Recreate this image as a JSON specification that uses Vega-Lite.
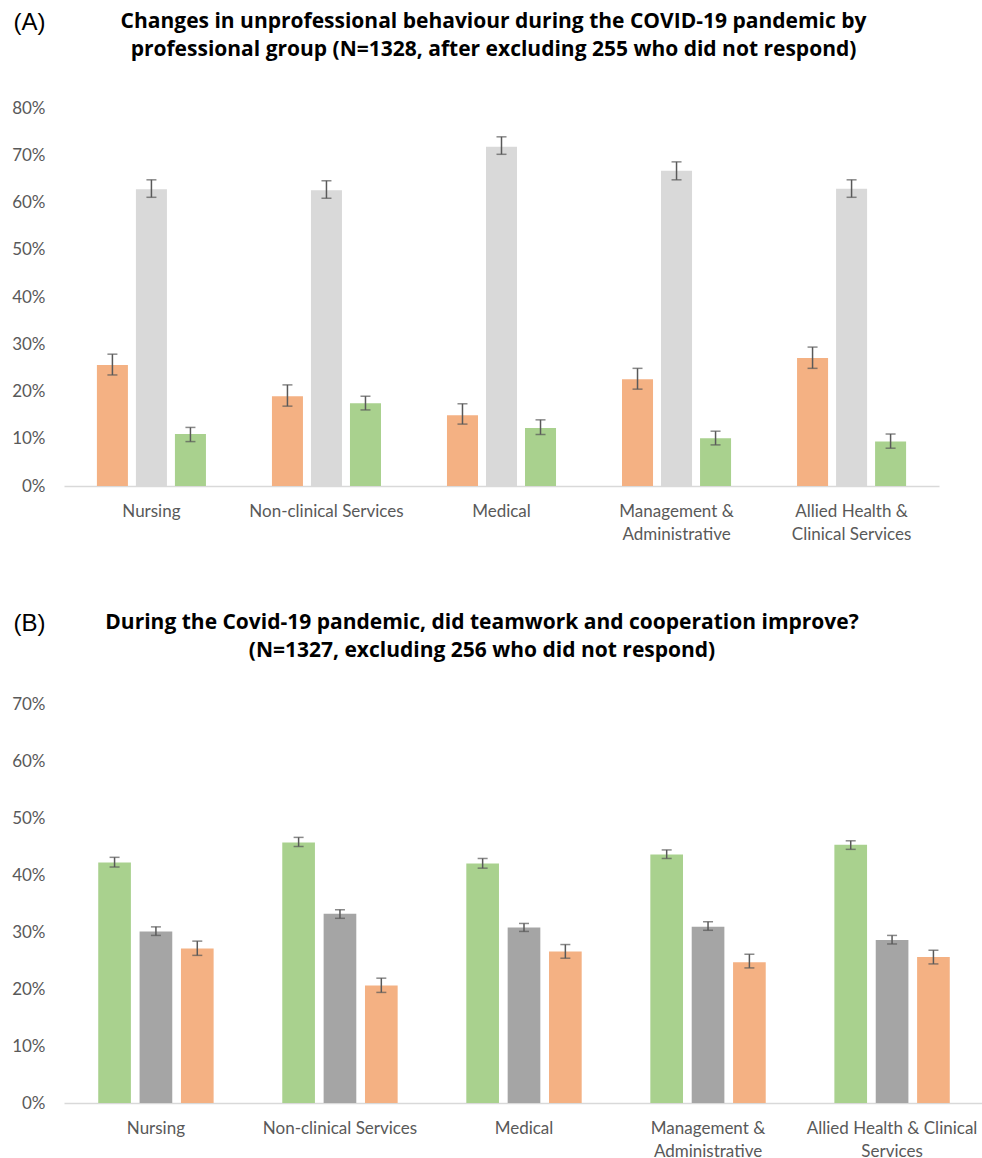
{
  "$schema": "https://vega.github.io/schema/vega-lite/v6.json",
  "background": "white",
  "padding": {"left": 11, "top": 10, "right": 0, "bottom": 0},
  "spacing": 69,
  "resolve": {"scale": {"color": "independent", "xOffset": "independent", "x": "independent", "y": "independent"}},
  "config": {
    "view": {"stroke": null},
    "font": "Lato",
    "axis": {"labelFont": "Lato", "labelFontSize": 17, "labelColor": "#595959", "grid": false, "ticks": false},
    "title": {"font": "Open Sans", "fontSize": 21, "fontWeight": "bold", "color": "#000000", "lineHeight": 28, "anchor": "middle"}
  },
  "datasets": {
    "a": [
      {"group": "Nursing", "series": "Increased", "value": 0.256, "lo": 0.235, "hi": 0.279},
      {"group": "Nursing", "series": "No change", "value": 0.628, "lo": 0.611, "hi": 0.648},
      {"group": "Nursing", "series": "Decreased", "value": 0.110, "lo": 0.094, "hi": 0.124},
      {"group": "Non-clinical Services", "series": "Increased", "value": 0.190, "lo": 0.169, "hi": 0.214},
      {"group": "Non-clinical Services", "series": "No change", "value": 0.626, "lo": 0.609, "hi": 0.646},
      {"group": "Non-clinical Services", "series": "Decreased", "value": 0.175, "lo": 0.161, "hi": 0.190},
      {"group": "Medical", "series": "Increased", "value": 0.150, "lo": 0.131, "hi": 0.174},
      {"group": "Medical", "series": "No change", "value": 0.718, "lo": 0.702, "hi": 0.739},
      {"group": "Medical", "series": "Decreased", "value": 0.123, "lo": 0.109, "hi": 0.140},
      {"group": "Management & Administrative", "series": "Increased", "value": 0.226, "lo": 0.205, "hi": 0.249},
      {"group": "Management & Administrative", "series": "No change", "value": 0.667, "lo": 0.648, "hi": 0.686},
      {"group": "Management & Administrative", "series": "Decreased", "value": 0.101, "lo": 0.087, "hi": 0.116},
      {"group": "Allied Health & Clinical Services", "series": "Increased", "value": 0.271, "lo": 0.249, "hi": 0.294},
      {"group": "Allied Health & Clinical Services", "series": "No change", "value": 0.629, "lo": 0.611, "hi": 0.648},
      {"group": "Allied Health & Clinical Services", "series": "Decreased", "value": 0.094, "lo": 0.080, "hi": 0.110}
    ],
    "b": [
      {"group": "Nursing", "series": "Yes", "value": 0.422, "lo": 0.414, "hi": 0.431},
      {"group": "Nursing", "series": "Unsure", "value": 0.301, "lo": 0.294, "hi": 0.309},
      {"group": "Nursing", "series": "No", "value": 0.271, "lo": 0.259, "hi": 0.284},
      {"group": "Non-clinical Services", "series": "Yes", "value": 0.457, "lo": 0.450, "hi": 0.466},
      {"group": "Non-clinical Services", "series": "Unsure", "value": 0.332, "lo": 0.324, "hi": 0.339},
      {"group": "Non-clinical Services", "series": "No", "value": 0.206, "lo": 0.194, "hi": 0.219},
      {"group": "Medical", "series": "Yes", "value": 0.420, "lo": 0.412, "hi": 0.429},
      {"group": "Medical", "series": "Unsure", "value": 0.308, "lo": 0.301, "hi": 0.315},
      {"group": "Medical", "series": "No", "value": 0.266, "lo": 0.254, "hi": 0.278},
      {"group": "Management & Administrative", "series": "Yes", "value": 0.436, "lo": 0.429, "hi": 0.444},
      {"group": "Management & Administrative", "series": "Unsure", "value": 0.309, "lo": 0.303, "hi": 0.318},
      {"group": "Management & Administrative", "series": "No", "value": 0.247, "lo": 0.237, "hi": 0.261},
      {"group": "Allied Health & Clinical Services", "series": "Yes", "value": 0.453, "lo": 0.445, "hi": 0.460},
      {"group": "Allied Health & Clinical Services", "series": "Unsure", "value": 0.286, "lo": 0.279, "hi": 0.294},
      {"group": "Allied Health & Clinical Services", "series": "No", "value": 0.256, "lo": 0.244, "hi": 0.268}
    ]
  },
  "vconcat": [
    {
      "width": 875,
      "height": 378,
      "data": {"name": "a"},
      "title": {"text": ["Changes in unprofessional behaviour during the COVID-19 pandemic by", "professional group (N=1328, after excluding 255 who did not respond)"], "dx": -8, "offset": -50},
      "encoding": {
        "x": {"field": "group", "type": "nominal", "sort": null,
              "scale": {"type": "band", "paddingInner": 0.377, "paddingOuter": 0.188},
              "axis": {"title": null, "labelAngle": 0, "labelPadding": 17, "domainColor": "#d9d9d9", "domainWidth": 1.5, "labelLineHeight": 23,
                       "labelExpr": "datum.value == 'Management & Administrative' ? ['Management &', 'Administrative'] : datum.value == 'Allied Health & Clinical Services' ? ['Allied Health &', 'Clinical Services'] : datum.value"}},
        "xOffset": {"field": "series", "type": "nominal", "sort": ["Increased", "No change", "Decreased"], "scale": {"type": "band", "paddingInner": 0.205, "paddingOuter": 0}},
        "color": {"field": "series", "type": "nominal", "sort": ["Increased", "No change", "Decreased"],
                  "scale": {"domain": ["Increased", "No change", "Decreased"], "range": ["#F4B183", "#D9D9D9", "#A9D18E"]}, "legend": null}
      },
      "layer": [
        {"mark": {"type": "bar"},
         "encoding": {"y": {"field": "value", "type": "quantitative", "scale": {"domain": [0, 0.8]},
                            "axis": {"format": "%", "values": [0, 0.1, 0.2, 0.3, 0.4, 0.5, 0.6, 0.7, 0.8], "labelOverlap": false, "domain": false, "labelPadding": 19,
                                     "title": "(A)", "titleAngle": 0, "titleAlign": "left", "titleBaseline": "middle", "titleX": -51, "titleY": -86,
                                     "titleFont": "Liberation Sans", "titleFontSize": 24, "titleFontWeight": "normal", "titleColor": "#000000"}}}},
        {"mark": {"type": "rule", "color": "#595959", "strokeWidth": 1.5},
         "encoding": {"y": {"field": "lo", "type": "quantitative"}, "y2": {"field": "hi"}, "color": {"value": "#595959"}}},
        {"mark": {"type": "tick", "color": "#595959", "thickness": 1.5, "size": 10},
         "encoding": {"y": {"field": "lo", "type": "quantitative"}, "color": {"value": "#595959"}}},
        {"mark": {"type": "tick", "color": "#595959", "thickness": 1.5, "size": 10},
         "encoding": {"y": {"field": "hi", "type": "quantitative"}, "color": {"value": "#595959"}}}
      ]
    },
    {
      "width": 920,
      "height": 399,
      "data": {"name": "b"},
      "title": {"text": ["During the Covid-19 pandemic, did teamwork and cooperation improve?", "(N=1327, excluding 256 who did not respond)"], "dx": -42, "offset": -50},
      "encoding": {
        "x": {"field": "group", "type": "nominal", "sort": null,
              "scale": {"type": "band", "paddingInner": 0.373, "paddingOuter": 0.186},
              "axis": {"title": null, "labelAngle": 0, "labelPadding": 17, "domainColor": "#d9d9d9", "domainWidth": 1.5, "labelLineHeight": 23,
                       "labelExpr": "datum.value == 'Management & Administrative' ? ['Management &', 'Administrative'] : datum.value == 'Allied Health & Clinical Services' ? ['Allied Health & Clinical', 'Services'] : datum.value"}},
        "xOffset": {"field": "series", "type": "nominal", "sort": ["Yes", "Unsure", "No"], "scale": {"type": "band", "paddingInner": 0.21, "paddingOuter": 0}},
        "color": {"field": "series", "type": "nominal", "sort": ["Yes", "Unsure", "No"],
                  "scale": {"domain": ["Yes", "Unsure", "No"], "range": ["#A9D18E", "#A5A5A5", "#F4B183"]}, "legend": null}
      },
      "layer": [
        {"mark": {"type": "bar"},
         "encoding": {"y": {"field": "value", "type": "quantitative", "scale": {"domain": [0, 0.7]},
                            "axis": {"format": "%", "values": [0, 0.1, 0.2, 0.3, 0.4, 0.5, 0.6, 0.7], "labelOverlap": false, "domain": false, "labelPadding": 19,
                                     "title": "(B)", "titleAngle": 0, "titleAlign": "left", "titleBaseline": "middle", "titleX": -51, "titleY": -81,
                                     "titleFont": "Liberation Sans", "titleFontSize": 24, "titleFontWeight": "normal", "titleColor": "#000000"}}}},
        {"mark": {"type": "rule", "color": "#595959", "strokeWidth": 1.5},
         "encoding": {"y": {"field": "lo", "type": "quantitative"}, "y2": {"field": "hi"}, "color": {"value": "#595959"}}},
        {"mark": {"type": "tick", "color": "#595959", "thickness": 1.5, "size": 10},
         "encoding": {"y": {"field": "lo", "type": "quantitative"}, "color": {"value": "#595959"}}},
        {"mark": {"type": "tick", "color": "#595959", "thickness": 1.5, "size": 10},
         "encoding": {"y": {"field": "hi", "type": "quantitative"}, "color": {"value": "#595959"}}}
      ]
    }
  ]
}
